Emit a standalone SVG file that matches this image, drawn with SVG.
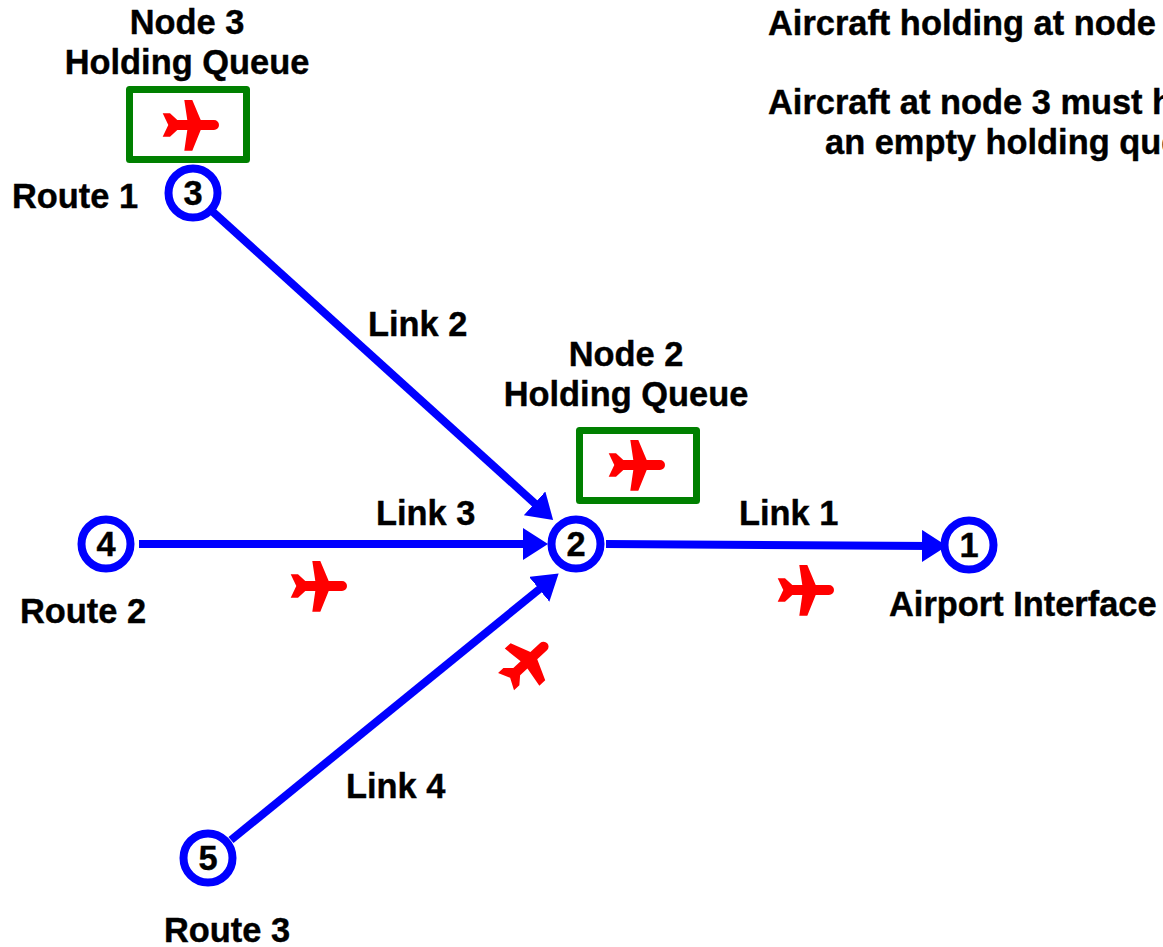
<svg xmlns="http://www.w3.org/2000/svg" width="1163" height="947" viewBox="0 0 1163 947">
<style>
text{font-family:"Liberation Sans",Arial,sans-serif;font-weight:700;font-size:34.4px;fill:#000;stroke:#000;stroke-width:.4}
.m{text-anchor:middle}
.n{fill:#fff;stroke:#00f;stroke-width:8}
.q{fill:#fff;stroke:#008000;stroke-width:7;stroke-linejoin:round}
.l{fill:none;stroke:#00f;stroke-width:8}
.p{fill:#f00}
</style>
<defs>
<marker id="a" markerUnits="userSpaceOnUse" markerWidth="26" markerHeight="34" refX="10" refY="16" orient="auto"><path d="M0,0 L25,16 L0,32 Z" fill="#00f"/></marker>
<path id="plane" d="M-5.7,-25 L2.3,-25 L10.7,-5 L24,-5 A5,5 0 0 1 24,5 L10.7,5 L2.3,25.7 L-5.7,25.7 L-2.7,5 L-12.7,5 L-20,11.7 L-27.3,11.7 L-21.7,0 L-27.3,-11.7 L-20,-11.7 L-12.7,-5 L-2.7,-5 Z"/>
</defs>
<rect width="1163" height="947" fill="#fff"/>
<g id="connectors">
<path class="l" marker-end="url(#a)" d="M213,212 L542,510"/>
<path class="l" marker-end="url(#a)" d="M139,544 L533,544"/>
<path class="l" marker-end="url(#a)" d="M231,840 L547,583"/>
<path class="l" marker-end="url(#a)" d="M606,544 L932,546"/>
</g>
<g id="node3"><circle class="n" cx="193" cy="193" r="24.5"/><text class="m" x="193" y="205">3</text></g>
<g id="node4"><circle class="n" cx="106" cy="544" r="24.5"/><text class="m" x="106" y="556">4</text></g>
<g id="node2"><circle class="n" cx="576" cy="544" r="24.5"/><text class="m" x="576" y="556">2</text></g>
<g id="node1"><circle class="n" cx="969" cy="545" r="24.5"/><text class="m" x="969" y="557">1</text></g>
<g id="node5"><circle class="n" cx="208" cy="858" r="24.5"/><text class="m" x="208" y="870">5</text></g>
<g id="queue3"><rect class="q" x="129.5" y="89.5" width="117" height="70"/><use href="#plane" class="p" x="190" y="125"/></g>
<g id="queue2"><rect class="q" x="579.5" y="430.5" width="117" height="70"/><use href="#plane" class="p" x="636" y="465"/></g>
<g id="aircraft"><use href="#plane" class="p" x="318" y="586"/><use href="#plane" class="p" x="805" y="590"/><use href="#plane" class="p" transform="translate(526,663) rotate(-43)"/></g>
<g id="labels">
<text class="m" x="187" y="34">Node 3</text>
<text class="m" x="187" y="74">Holding Queue</text>
<text x="12" y="208">Route 1</text>
<text x="368" y="336">Link 2</text>
<text class="m" x="626" y="366">Node 2</text>
<text class="m" x="626" y="406">Holding Queue</text>
<text x="376" y="525">Link 3</text>
<text x="739" y="525">Link 1</text>
<text x="20" y="623">Route 2</text>
<text x="889" y="616">Airport Interface</text>
<text x="346" y="798">Link 4</text>
<text x="164" y="942">Route 3</text>
<text x="768" y="35">Aircraft holding at node</text>
<text x="768" y="114">Aircraft at node 3 must h</text>
<text x="825" y="154">an empty holding que</text>
</g>
</svg>
